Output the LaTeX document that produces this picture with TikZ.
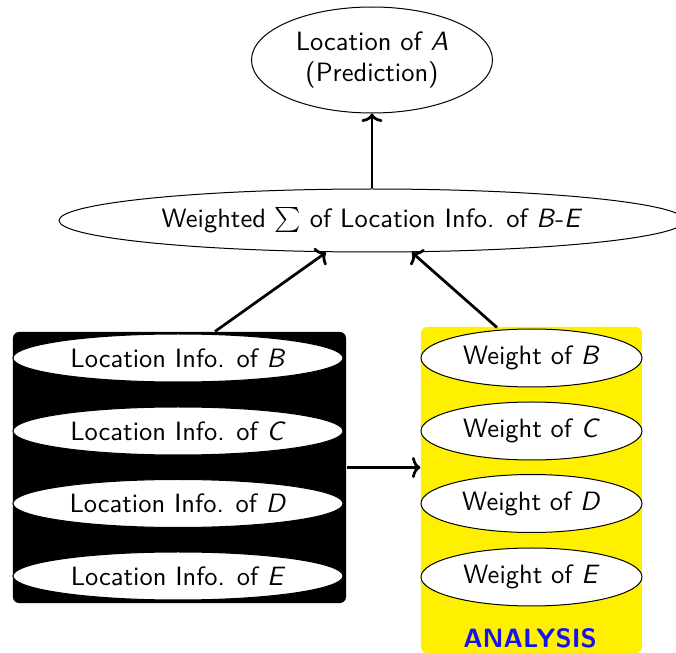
\documentclass[tikz,border=0pt]{standalone}
\usetikzlibrary{shapes.geometric,calc,arrows.meta}
\definecolor{ylw}{RGB}{255,240,0}
\definecolor{anblue}{RGB}{20,20,240}
\begin{document}
\begin{tikzpicture}[x=0.4pt,y=-0.4pt,
  every node/.style={font=\fontsize{10.6}{12.7}\selectfont\sffamily},
  oval/.style={ellipse,draw,line width=0.4pt,fill=white,inner sep=0pt},
  locoval/.style={oval,minimum width=132pt,minimum height=19.2pt},
  wtoval/.style={oval,minimum width=88.4pt,minimum height=23.2pt},
  panel/.style={rounded corners=2.4pt,inner sep=0pt},
  arr/.style={-{To[length=3.4pt,width=8.4pt]},line width=1.1pt}]
\useasboundingbox (0,0) rectangle (676,653);
\clip (0,0) rectangle (676,653);
\node[oval,minimum width=96.4pt,minimum height=42.4pt,align=center] (top) at (372,60) {Location of \textit{A}\\(Prediction)};
\node[oval,minimum width=250.4pt,minimum height=25.2pt] (sum) at (372,220.5) {Weighted $\sum$ of Location Info. of \textit{B}-\textit{E}};
\node[panel,fill=black,minimum width=133.2pt,minimum height=108.4pt] (lbox) at (179.5,467.5) {};
\node[panel,fill=ylw,minimum width=88.4pt,minimum height=130.4pt] (rbox) at (531.5,490) {};
\node[locoval] (lb) at (178,358) {Location Info. of \textit{B}};
\node[locoval] (lc) at (178,431) {Location Info. of \textit{C}};
\node[locoval] (ld) at (178,503.5) {Location Info. of \textit{D}};
\node[locoval] (le) at (178,576) {Location Info. of \textit{E}};
\node[wtoval] (wb) at (531.5,358) {Weight of \textit{B}};
\node[wtoval] (wc) at (531.5,431) {Weight of \textit{C}};
\node[wtoval] (wd) at (531.5,503.5) {Weight of \textit{D}};
\node[wtoval] (we) at (531.5,577) {Weight of \textit{E}};
\node[text=anblue,font=\fontsize{10.6}{12.7}\selectfont\sffamily\bfseries] (an) at (530,638) {ANALYSIS};
\draw[arr] (sum.north) -- (top.south);
\draw[arr] ($(lbox.north)+(35.5,0)$) -- ($(sum.south)+(-46,0)$);
\draw[arr] ($(rbox.north)+(-34.5,1)$) -- ($(sum.south)+(40,0)$);
\draw[arr] (lbox.east) -- (lbox.east -| rbox.west);
\end{tikzpicture}
\end{document}
